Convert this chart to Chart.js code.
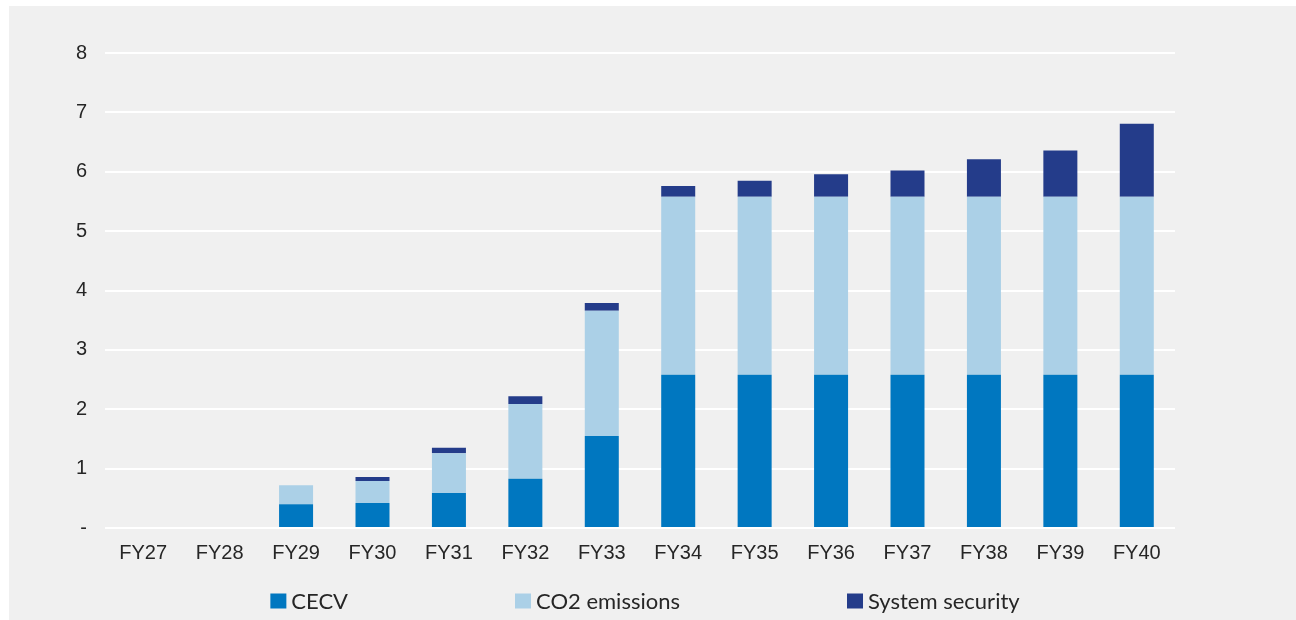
<!DOCTYPE html>
<html>
<head>
<meta charset="utf-8">
<script src="https://cdn.jsdelivr.net/npm/chart.js@4.4.1/dist/chart.umd.min.js"></script>
<style>
  html, body { margin: 0; padding: 0; background: #ffffff; }
  body { width: 1296px; height: 620px; position: relative; overflow: hidden; }
  #panel {
    position: absolute; left: 9px; top: 6px; width: 1287px; height: 614px;
    background: #f0f0f0;
  }
  #panel canvas { display: block; }
</style>
</head>
<body>
<div id="panel"><canvas id="chart" width="1287" height="614"></canvas></div>
<script>
// Cost components by financial year
const categories = ['FY27', 'FY28', 'FY29', 'FY30', 'FY31', 'FY32', 'FY33', 'FY34', 'FY35', 'FY36', 'FY37', 'FY38', 'FY39', 'FY40'];
const cecv       = [0, 0, 0.40, 0.42, 0.59, 0.83, 1.55, 2.58, 2.58, 2.58, 2.58, 2.58, 2.58, 2.58];
const co2        = [0, 0, 0.32, 0.37, 0.67, 1.26, 2.11, 3.00, 3.00, 3.00, 3.00, 3.00, 3.00, 3.00];
const security   = [0, 0, 0, 0.07, 0.09, 0.13, 0.13, 0.18, 0.27, 0.38, 0.44, 0.63, 0.78, 1.23];
const seriesNames = ['CECV', 'CO2 emissions', 'System security'];
const yTicks = [0, 1, 2, 3, 4, 5, 6, 7, 8];

const COLORS = ['#0077c0', '#abd0e7', '#243c8a'];
const TEXT = '#262626';
const AXIS_FONT = { family: 'Arial, "Liberation Sans", sans-serif', size: 20 };

// Legend row drawn under the axis: square swatch + label, equal gaps between entries
const bottomLegend = {
  id: 'bottomLegend',
  afterDraw(chart) {
    const ctx = chart.ctx;
    const sw = 16, sh = 15, gapText = 5, gapItem = 167;
    ctx.save();
    ctx.font = '22px Lato, "Open Sans", sans-serif';
    ctx.textBaseline = 'middle';
    ctx.textAlign = 'left';
    const items = chart.data.datasets.map(ds => ({
      label: ds.label, color: ds.backgroundColor, w: ctx.measureText(ds.label).width
    }));
    const total = items.reduce((s, it) => s + sw + gapText + it.w, 0) + gapItem * (items.length - 1);
    const cx = (chart.chartArea.left + chart.chartArea.right) / 2 + 5;
    let x = cx - total / 2;
    const y = chart.height - 19;
    items.forEach(it => {
      ctx.fillStyle = it.color;
      ctx.fillRect(x, y - sh / 2, sw, sh);
      ctx.fillStyle = TEXT;
      ctx.fillText(it.label, x + sw + gapText, y + 1);
      x += sw + gapText + it.w + gapItem;
    });
    ctx.restore();
  }
};

new Chart(document.getElementById('chart'), {
  type: 'bar',
  data: {
    labels: categories,
    datasets: [
      { label: seriesNames[0], data: cecv, backgroundColor: COLORS[0] },
      { label: seriesNames[1], data: co2, backgroundColor: COLORS[1] },
      { label: seriesNames[2], data: security, backgroundColor: COLORS[2] }
    ]
  },
  options: {
    responsive: false,
    animation: false,
    layout: { padding: { top: 47, right: 121, bottom: 52, left: 0 } },
    datasets: {
      bar: { barPercentage: 1, categoryPercentage: 0.445, borderWidth: 0 }
    },
    scales: {
      x: {
        stacked: true,
        grid: { display: false, drawTicks: false },
        border: { display: false },
        ticks: { color: TEXT, font: AXIS_FONT, padding: 13, maxRotation: 0 },
        afterFit(scale) { scale.height = 40; }
      },
      y: {
        stacked: true,
        min: 0, max: 8,
        afterBuildTicks(scale) { scale.ticks = yTicks.map(v => ({ value: v })); },
        grid: { color: '#ffffff', lineWidth: 2, drawTicks: false },
        border: { display: false },
        ticks: {
          color: TEXT, font: AXIS_FONT, padding: 18,
          callback: v => (v === 0 ? '-' : String(v))
        },
        afterFit(scale) { scale.width = 96; }
      }
    },
    plugins: {
      legend: { display: false },
      tooltip: { enabled: false }
    }
  },
  plugins: [bottomLegend]
});
</script>
</body>
</html>
